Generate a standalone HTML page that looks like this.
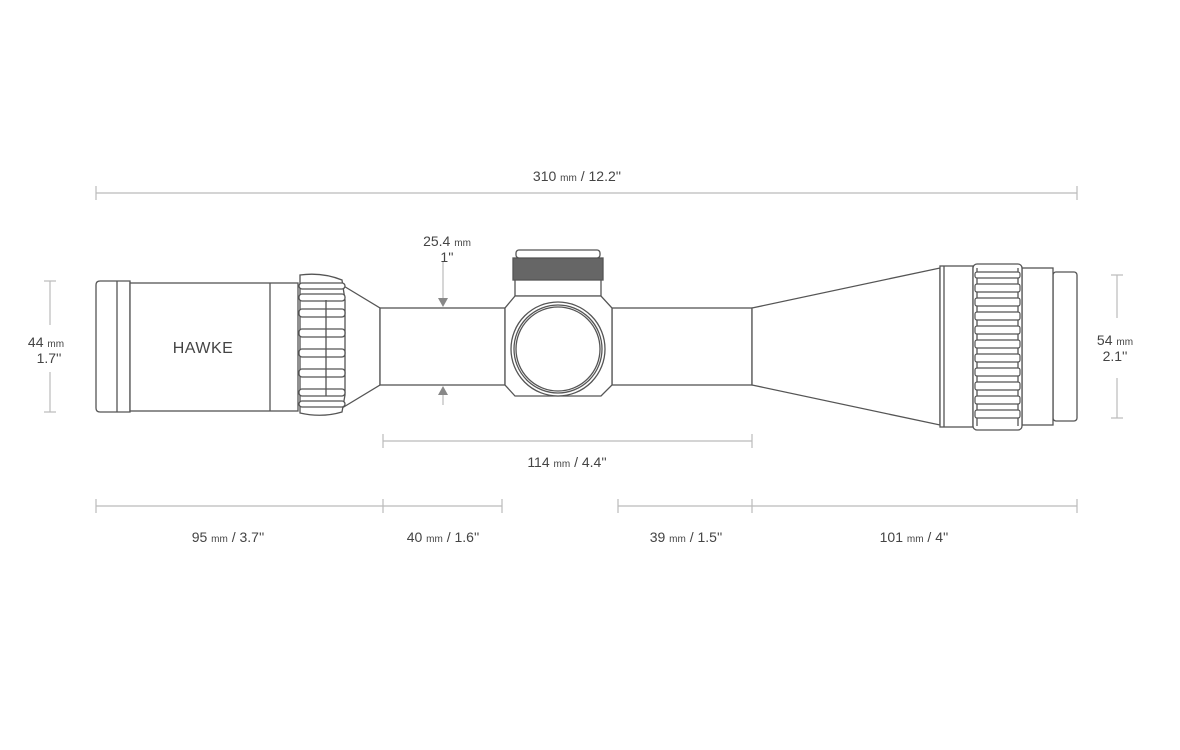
<!DOCTYPE html>
<html><head><style>
body{margin:0;background:#fff}
svg{display:block}
text{font-family:"Liberation Sans",sans-serif;fill:#444}
</style></head><body>
<svg width="1180" height="750" viewBox="0 0 1180 750" xmlns="http://www.w3.org/2000/svg">
<g stroke="#bbb" stroke-width="1.2" fill="none">
<line x1="96" y1="193" x2="1077" y2="193"/><line x1="96" y1="186" x2="96" y2="200"/><line x1="1077" y1="186" x2="1077" y2="200"/>
<line x1="383" y1="441" x2="752" y2="441"/><line x1="383" y1="434" x2="383" y2="448"/><line x1="752" y1="434" x2="752" y2="448"/>
<line x1="96" y1="506" x2="502" y2="506"/><line x1="96" y1="499" x2="96" y2="513"/><line x1="383" y1="499" x2="383" y2="513"/><line x1="502" y1="499" x2="502" y2="513"/>
<line x1="618" y1="506" x2="1077" y2="506"/><line x1="618" y1="499" x2="618" y2="513"/><line x1="752" y1="499" x2="752" y2="513"/><line x1="1077" y1="499" x2="1077" y2="513"/>
<line x1="50" y1="281" x2="50" y2="325"/><line x1="50" y1="372" x2="50" y2="412"/><line x1="44" y1="281" x2="56" y2="281"/><line x1="44" y1="412" x2="56" y2="412"/>
<line x1="1117" y1="275" x2="1117" y2="318"/><line x1="1117" y1="378" x2="1117" y2="418"/><line x1="1111" y1="275" x2="1123" y2="275"/><line x1="1111" y1="418" x2="1123" y2="418"/>
<line x1="443" y1="262" x2="443" y2="300"/><line x1="443" y1="392" x2="443" y2="405"/>
</g>
<g fill="#888"><polygon points="438,298 448,298 443,307"/><polygon points="438,395 448,395 443,386"/></g>
<g stroke="#555" stroke-width="1.3" fill="#fff">
<path d="M100,281 H130 V412 H100 Q96,412 96,408 V285 Q96,281 100,281Z"/>
<line x1="117" y1="281" x2="117" y2="412"/>
<rect x="130" y="283" width="168" height="128"/>
<line x1="270" y1="283" x2="270" y2="411"/>
<path d="M342,285 L380,308 V385 L342,408Z"/>
<path d="M300,275 Q322,272 342,280 L345,300 V395 L342,412 Q322,418 300,413Z"/>
<g fill="#fff">
<rect x="299" y="283" width="46" height="6" rx="3"/><rect x="299" y="294" width="46" height="7" rx="3"/>
<rect x="299" y="309" width="46" height="8" rx="3"/><rect x="299" y="329" width="46" height="8" rx="3"/>
<rect x="299" y="349" width="46" height="8" rx="3"/><rect x="299" y="369" width="46" height="8" rx="3"/>
<rect x="299" y="389" width="46" height="7" rx="3"/><rect x="299" y="401" width="46" height="6" rx="3"/>
</g>
<line x1="326" y1="300" x2="326" y2="396"/>
<rect x="380" y="308" width="125" height="77"/>
<rect x="612" y="308" width="140" height="77"/>
<rect x="515" y="278" width="86" height="18"/>
<rect x="513" y="258" width="90" height="22" fill="#666"/>
<rect x="516" y="250" width="84" height="8" rx="3"/>
<path d="M515,296 H601 L612,308 V385 L601,396 H515 L505,385 V308Z"/>
<circle cx="558" cy="349" r="47"/><circle cx="558" cy="349" r="44"/><circle cx="558" cy="349" r="42"/>
<path d="M752,308 L940,268 V425 L752,385Z"/>
<rect x="940" y="266" width="33" height="161"/><line x1="944" y1="266" x2="944" y2="427"/>
<rect x="1053" y="272" width="24" height="149" rx="3"/>
<rect x="1022" y="268" width="31" height="157"/>
<rect x="973" y="264" width="49" height="166" rx="4"/>
<line x1="977" y1="268" x2="977" y2="426"/><line x1="1018" y1="268" x2="1018" y2="426"/>
</g>
<g stroke="#555" stroke-width="1.2" fill="#fff">
<rect x="975" y="272" width="45" height="6" rx="2"/><rect x="975" y="284" width="45" height="8" rx="2"/>
<rect x="975" y="298" width="45" height="8" rx="2"/><rect x="975" y="312" width="45" height="8" rx="2"/>
<rect x="975" y="326" width="45" height="8" rx="2"/><rect x="975" y="340" width="45" height="8" rx="2"/>
<rect x="975" y="354" width="45" height="8" rx="2"/><rect x="975" y="368" width="45" height="8" rx="2"/>
<rect x="975" y="382" width="45" height="8" rx="2"/><rect x="975" y="396" width="45" height="8" rx="2"/>
<rect x="975" y="410" width="45" height="8" rx="2"/>
</g>
<text x="203" y="353" font-size="16" text-anchor="middle" letter-spacing="0.5">HAWKE</text>
<g text-anchor="middle" font-size="14">
<text x="577" y="181">310 <tspan font-size="10">mm</tspan> / 12.2''</text>
<text x="447" y="246">25.4 <tspan font-size="10">mm</tspan></text>
<text x="447" y="262">1''</text>
<text x="567" y="467">114 <tspan font-size="10">mm</tspan> / 4.4''</text>
<text x="228" y="542">95 <tspan font-size="10">mm</tspan> / 3.7''</text>
<text x="443" y="542">40 <tspan font-size="10">mm</tspan> / 1.6''</text>
<text x="686" y="542">39 <tspan font-size="10">mm</tspan> / 1.5''</text>
<text x="914" y="542">101 <tspan font-size="10">mm</tspan> / 4''</text>
<text x="46" y="347">44 <tspan font-size="10">mm</tspan></text>
<text x="49" y="363">1.7''</text>
<text x="1115" y="345">54 <tspan font-size="10">mm</tspan></text>
<text x="1115" y="361">2.1''</text>
</g>
</svg>
</body></html>
